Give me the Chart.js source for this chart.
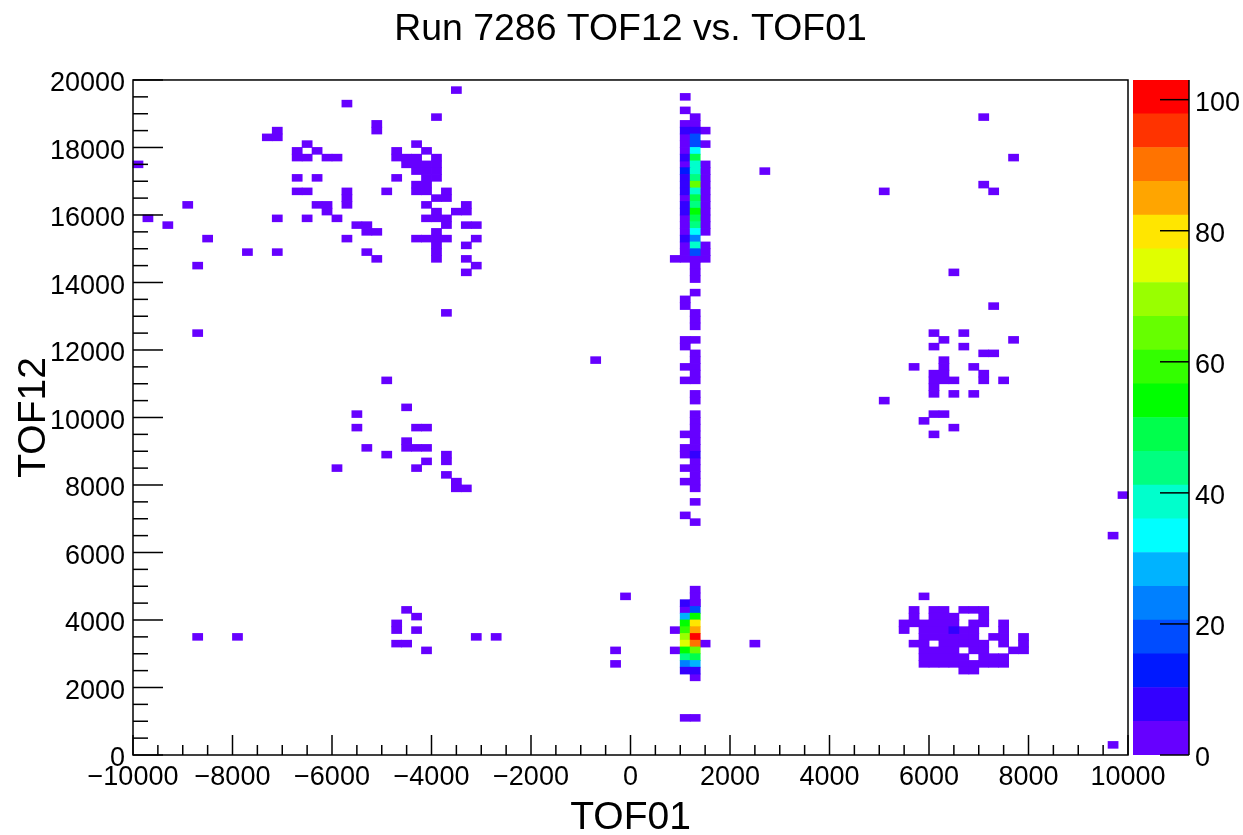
<!DOCTYPE html>
<html>
<head>
<meta charset="utf-8">
<title>Run 7286 TOF12 vs. TOF01</title>
<script src="https://cdn.jsdelivr.net/npm/chart.js@4"></script>
<style>
    html, body { margin: 0; padding: 0; background: #ffffff; overflow: hidden; }
    #wrap { position: relative; width: 1243px; height: 835px; }
    canvas { position: absolute; top: 0; }
    #mapa { left: 0; }
    #barra { left: 1133px; }
</style>
</head>
<body>
<div id="wrap">
    <canvas id="mapa" width="1243" height="835"></canvas>
    <canvas id="barra" width="110" height="835"></canvas>
</div>
<script>
// histogram axes: 100 x 100 bins
const tof01Min = -10000;
const tof01Max = 10000;
const tof12Min = 0;
const tof12Max = 20000;
const binSize = 200;
const zMax = 103;

// single entries, [tof12 bin, [tof01 bins]]
const upperLeftRows = [
    [98, [32]], [96, [21]], [94, [30]], [93, [24]], [92, [14, 24]], [91, [13, 14]],
    [90, [17, 28]], [89, [16, 18, 26, 29]], [88, [16, 17, 19, 20, 26, 27, 28, 30]],
    [87, [0, 27, 28, 29, 30]], [86, [28, 29, 30]], [85, [16, 18, 26, 29, 30]],
    [84, [28, 29]], [83, [16, 17, 21, 25, 28, 29, 31]], [82, [21, 30, 31]],
    [81, [5, 18, 19, 21, 29, 33]], [80, [19, 30, 32, 33]], [79, [1, 14, 17, 20, 29, 30, 31]],
    [78, [3, 22, 23, 31, 33, 34]], [77, [23, 24, 30]], [76, [7, 21, 28, 29, 30, 31, 34]],
    [75, [30, 33]], [74, [11, 14, 23, 30]], [73, [24, 30, 33]], [72, [6, 34]], [71, [33]]
];
const middleLeftRows = [
    [65, [31]], [62, [6]], [55, [25]], [51, [27]], [50, [22]], [48, [22, 28, 29]],
    [46, [27]], [45, [23, 27, 28, 29]], [44, [25, 31]], [43, [29, 31]], [42, [20, 28]],
    [41, [31]], [40, [32]], [39, [32, 33]]
];
const lowerLeftRows = [
    [21, [27]], [20, [28]], [19, [26]], [18, [26, 28]], [17, [6, 10, 34, 36]],
    [16, [26, 27]], [15, [29]]
];
const columnRows = [
    [97, [55]], [95, [55]], [94, [56]], [93, [55, 56]], [92, [57]], [91, [55]], [90, [55, 57]],
    [89, [55]], [87, [55, 57]], [86, [57]], [85, [57]], [84, [57]], [83, [57]],
    [82, [55, 57]], [81, [57]], [80, [57]], [79, [55, 57]], [78, [55, 57]], [77, [55, 57]],
    [75, [55, 57]], [74, [55, 57]], [73, [54, 55, 56, 57]], [72, [56]], [71, [56]], [70, [56]],
    [68, [56]], [67, [55]], [66, [55]], [65, [56]], [64, [56]], [63, [56]], [61, [55, 56]],
    [60, [55]], [59, [56]], [58, [56]], [57, [55, 56]], [56, [56]], [55, [55, 56]],
    [53, [56]], [52, [56]], [50, [56]], [49, [56]], [48, [56]], [47, [55, 56]], [46, [56]],
    [45, [55, 56]], [44, [55]], [43, [56]], [42, [55, 56]], [41, [56]], [40, [55, 56]],
    [39, [56]], [37, [56]], [35, [55]], [34, [56]],
    [24, [56]], [23, [49, 56]], [22, [56]], [21, [55]], [18, [54]], [16, [57, 62]],
    [15, [48, 54]], [13, [48]], [11, [56]], [5, [55, 56]]
];
const upperRightRows = [
    [94, [85]], [88, [88]], [86, [63]], [84, [85]], [83, [75, 86]], [71, [82]], [66, [86]],
    [58, [46]], [38, [99]], [32, [98]], [1, [98]]
];
const rightRows = [
    [62, [80, 83]], [61, [81, 88]], [60, [80, 83]], [59, [85, 86]], [58, [81]],
    [57, [78, 81, 84]], [56, [80, 81, 85]], [55, [80, 81, 82, 85, 87]], [54, [80]],
    [53, [80, 82, 84]], [52, [75]], [50, [80, 81]], [49, [79]], [48, [82]], [47, [80]]
];
const lowerRightRows = [
    [23, [79]], [21, [78, 80, 81, 83, 84, 85]], [20, [78, 80, 81, 82, 85]],
    [19, [77, 78, 79, 80, 81, 82, 84, 85, 87]], [18, [77, 79, 80, 81, 83, 84, 87]],
    [17, [79, 80, 81, 82, 83, 84, 86, 87, 89]], [16, [78, 79, 81, 82, 83, 84, 85, 87, 89]],
    [15, [79, 80, 81, 82, 84, 85, 88, 89]], [14, [79, 80, 81, 82, 83, 85, 86, 87]],
    [13, [79, 80, 81, 82, 83, 84, 85, 86, 87]], [12, [83, 84]]
];
const singleCount = 2;

// higher bins, [tof01 bin, tof12 bin, entries]
const upperCoreCells = [
    [55, 92, 7], [56, 92, 7], [56, 91, 18], [56, 90, 18], [56, 89, 33], [55, 88, 7], [56, 88, 49],
    [56, 87, 38], [55, 86, 12], [56, 86, 38], [55, 85, 7], [56, 85, 43], [55, 84, 7], [56, 84, 64],
    [55, 83, 7], [56, 83, 38], [56, 82, 49], [55, 81, 7], [56, 81, 43], [55, 80, 7], [56, 80, 54],
    [56, 79, 49], [56, 78, 43], [56, 77, 33], [55, 76, 7], [56, 76, 23], [56, 75, 38], [56, 74, 18]
];
const lowerCoreCells = [
    [55, 22, 7], [56, 22, 2], [56, 21, 18], [55, 20, 28], [56, 20, 54], [55, 19, 54], [56, 19, 80],
    [55, 18, 59], [56, 18, 85], [55, 17, 69], [56, 17, 102], [55, 16, 74], [56, 16, 90],
    [55, 15, 54], [56, 15, 64], [55, 14, 43], [56, 14, 49], [55, 13, 23], [56, 13, 28],
    [55, 12, 7], [56, 12, 7]
];
const otherCells = [[56, 44, 7], [82, 18, 7]];

// palette of the z axis, bottom to top
const zColors = [
    "#6600ff", "#3300ff", "#0019ff", "#004cff", "#0080ff", "#00b3ff", "#00ffff", "#00ffcc", "#00ff80", "#00ff4c",
    "#00ff00", "#33ff00", "#66ff00", "#99ff00", "#e0ff00", "#ffe600", "#ffa500", "#ff7300", "#ff3300", "#ff0000"
];

const xMajorStep = 2000;
const xMinorStep = 500;
const yMajorStep = 2000;
const yMinorStep = 500;
const zTickStep = 20;

const fonte = "'Liberation Sans', Arial, sans-serif";
const tickFont = { family: fonte, size: 27 };
const bandSize = zMax / zColors.length;

function corDe(valor) {
    return zColors[Math.min(Math.floor(valor / bandSize), zColors.length - 1)];
}

function juntarCelulas() {
    const celulas = [];
    const grupos = [upperLeftRows, middleLeftRows, lowerLeftRows, columnRows, upperRightRows, rightRows, lowerRightRows];
    grupos.forEach(grupo => {
        grupo.forEach(([linha, colunas]) => {
            colunas.forEach(coluna => {
                celulas.push({ x: tof01Min + coluna * binSize, y: linha * binSize, v: singleCount });
            });
        });
    });
    [upperCoreCells, lowerCoreCells, otherCells].forEach(grupo => {
        grupo.forEach(([coluna, linha, v]) => {
            celulas.push({ x: tof01Min + coluna * binSize, y: linha * binSize, v: v });
        });
    });
    return celulas;
}

function formatar(valor) {
    return String(valor).replace("-", "\u2212");
}

// draws each bin as a rectangle through the chart scales
const celulasPlugin = {
    id: "celulas",
    beforeDatasetsDraw(chart) {
        const { ctx, scales: { x, y } } = chart;
        const folga = 0.4; // the reference bins bleed a little over their edges
        chart.data.datasets[0].data.forEach(c => {
            const x0 = x.getPixelForValue(c.x);
            const x1 = x.getPixelForValue(c.x + binSize);
            const y0 = y.getPixelForValue(c.y + binSize);
            const y1 = y.getPixelForValue(c.y);
            ctx.fillStyle = corDe(c.v);
            ctx.fillRect(x0 - folga, y0 - folga, x1 - x0 + 2 * folga, y1 - y0 + 2 * folga);
        });
    }
};

// root style frame and ticks pointing inwards
const molduraPlugin = {
    id: "moldura",
    afterDatasetsDraw(chart) {
        const { ctx, chartArea: a, scales: { x, y } } = chart;
        ctx.save();
        ctx.strokeStyle = "#000000";
        ctx.lineWidth = 1.5;
        for (let v = tof01Min; v <= tof01Max; v += xMinorStep) {
            const px = x.getPixelForValue(v);
            const comprimento = v % xMajorStep === 0 ? 20 : 10;
            ctx.beginPath();
            ctx.moveTo(px, a.bottom);
            ctx.lineTo(px, a.bottom - comprimento);
            ctx.stroke();
        }
        for (let v = tof12Min; v <= tof12Max; v += yMinorStep) {
            const py = y.getPixelForValue(v);
            const comprimento = v % yMajorStep === 0 ? 30 : 15;
            ctx.beginPath();
            ctx.moveTo(a.left, py);
            ctx.lineTo(a.left + comprimento, py);
            ctx.stroke();
        }
        ctx.strokeRect(a.left, a.top, a.right - a.left, a.bottom - a.top);
        ctx.restore();
    }
};

const barraPlugin = {
    id: "barraTicks",
    afterDatasetsDraw(chart) {
        const { ctx, chartArea: a, scales: { y } } = chart;
        ctx.save();
        ctx.strokeStyle = "#000000";
        ctx.lineWidth = 1.5;
        for (let v = 0; v <= zMax; v += zTickStep) {
            const py = y.getPixelForValue(v);
            ctx.beginPath();
            ctx.moveTo(a.right, py);
            ctx.lineTo(a.right - 29, py);
            ctx.stroke();
        }
        ctx.beginPath();
        ctx.moveTo(a.right, a.top);
        ctx.lineTo(a.right, a.bottom);
        ctx.stroke();
        ctx.restore();
    }
};

document.addEventListener("DOMContentLoaded", () => {
    new Chart(document.getElementById("mapa"), {
        type: "scatter",
        data: {
            datasets: [{
                label: "TOF12 vs TOF01",
                data: juntarCelulas(),
                pointRadius: 0,
                pointHoverRadius: 0
            }]
        },
        plugins: [celulasPlugin, molduraPlugin],
        options: {
            responsive: false,
            animation: false,
            layout: { padding: { right: 115 } },
            plugins: {
                legend: { display: false },
                tooltip: { enabled: false },
                title: {
                    display: true,
                    fullSize: false,
                    text: "Run 7286 TOF12 vs. TOF01",
                    color: "#000000",
                    font: { family: fonte, size: 37.4, weight: "normal" },
                    padding: { top: 7, bottom: 28.1 }
                }
            },
            scales: {
                x: {
                    type: "linear",
                    min: tof01Min,
                    max: tof01Max,
                    afterFit(scale) { scale.height = 80; },
                    grid: { display: false, drawTicks: false },
                    border: { display: false },
                    ticks: {
                        stepSize: xMajorStep,
                        autoSkip: false,
                        maxRotation: 0,
                        padding: 6,
                        color: "#000000",
                        font: tickFont,
                        callback: formatar
                    },
                    title: {
                        display: true,
                        text: "TOF01",
                        color: "#000000",
                        font: { family: fonte, size: 39, lineHeight: 1 },
                        padding: { top: 0, bottom: -3 }
                    }
                },
                y: {
                    type: "linear",
                    min: tof12Min,
                    max: tof12Max,
                    afterFit(scale) { scale.width = 133; },
                    grid: { display: false, drawTicks: false },
                    border: { display: false },
                    ticks: {
                        stepSize: yMajorStep,
                        autoSkip: false,
                        padding: 8,
                        labelOffset: 4,
                        color: "#000000",
                        font: tickFont,
                        callback: formatar
                    },
                    title: {
                        display: true,
                        text: "TOF12",
                        color: "#000000",
                        font: { family: fonte, size: 39 },
                        padding: { top: 11, bottom: 0 }
                    }
                }
            }
        }
    });

    new Chart(document.getElementById("barra"), {
        type: "bar",
        data: {
            labels: ["z"],
            datasets: zColors.map(cor => ({
                data: [bandSize],
                backgroundColor: cor,
                borderWidth: 0,
                barPercentage: 1,
                categoryPercentage: 1
            }))
        },
        plugins: [barraPlugin],
        options: {
            responsive: false,
            animation: false,
            layout: { padding: { top: 80, bottom: 80 } },
            plugins: {
                legend: { display: false },
                tooltip: { enabled: false }
            },
            scales: {
                x: { stacked: true, display: false },
                y: {
                    stacked: true,
                    position: "right",
                    min: 0,
                    max: zMax,
                    afterFit(scale) { scale.width = 54; },
                    grid: { display: false, drawTicks: false },
                    border: { display: false },
                    ticks: {
                        stepSize: zTickStep,
                        includeBounds: false,
                        padding: 6,
                        labelOffset: 4,
                        color: "#000000",
                        font: tickFont
                    }
                }
            }
        }
    });
});
</script>
</body>
</html>
